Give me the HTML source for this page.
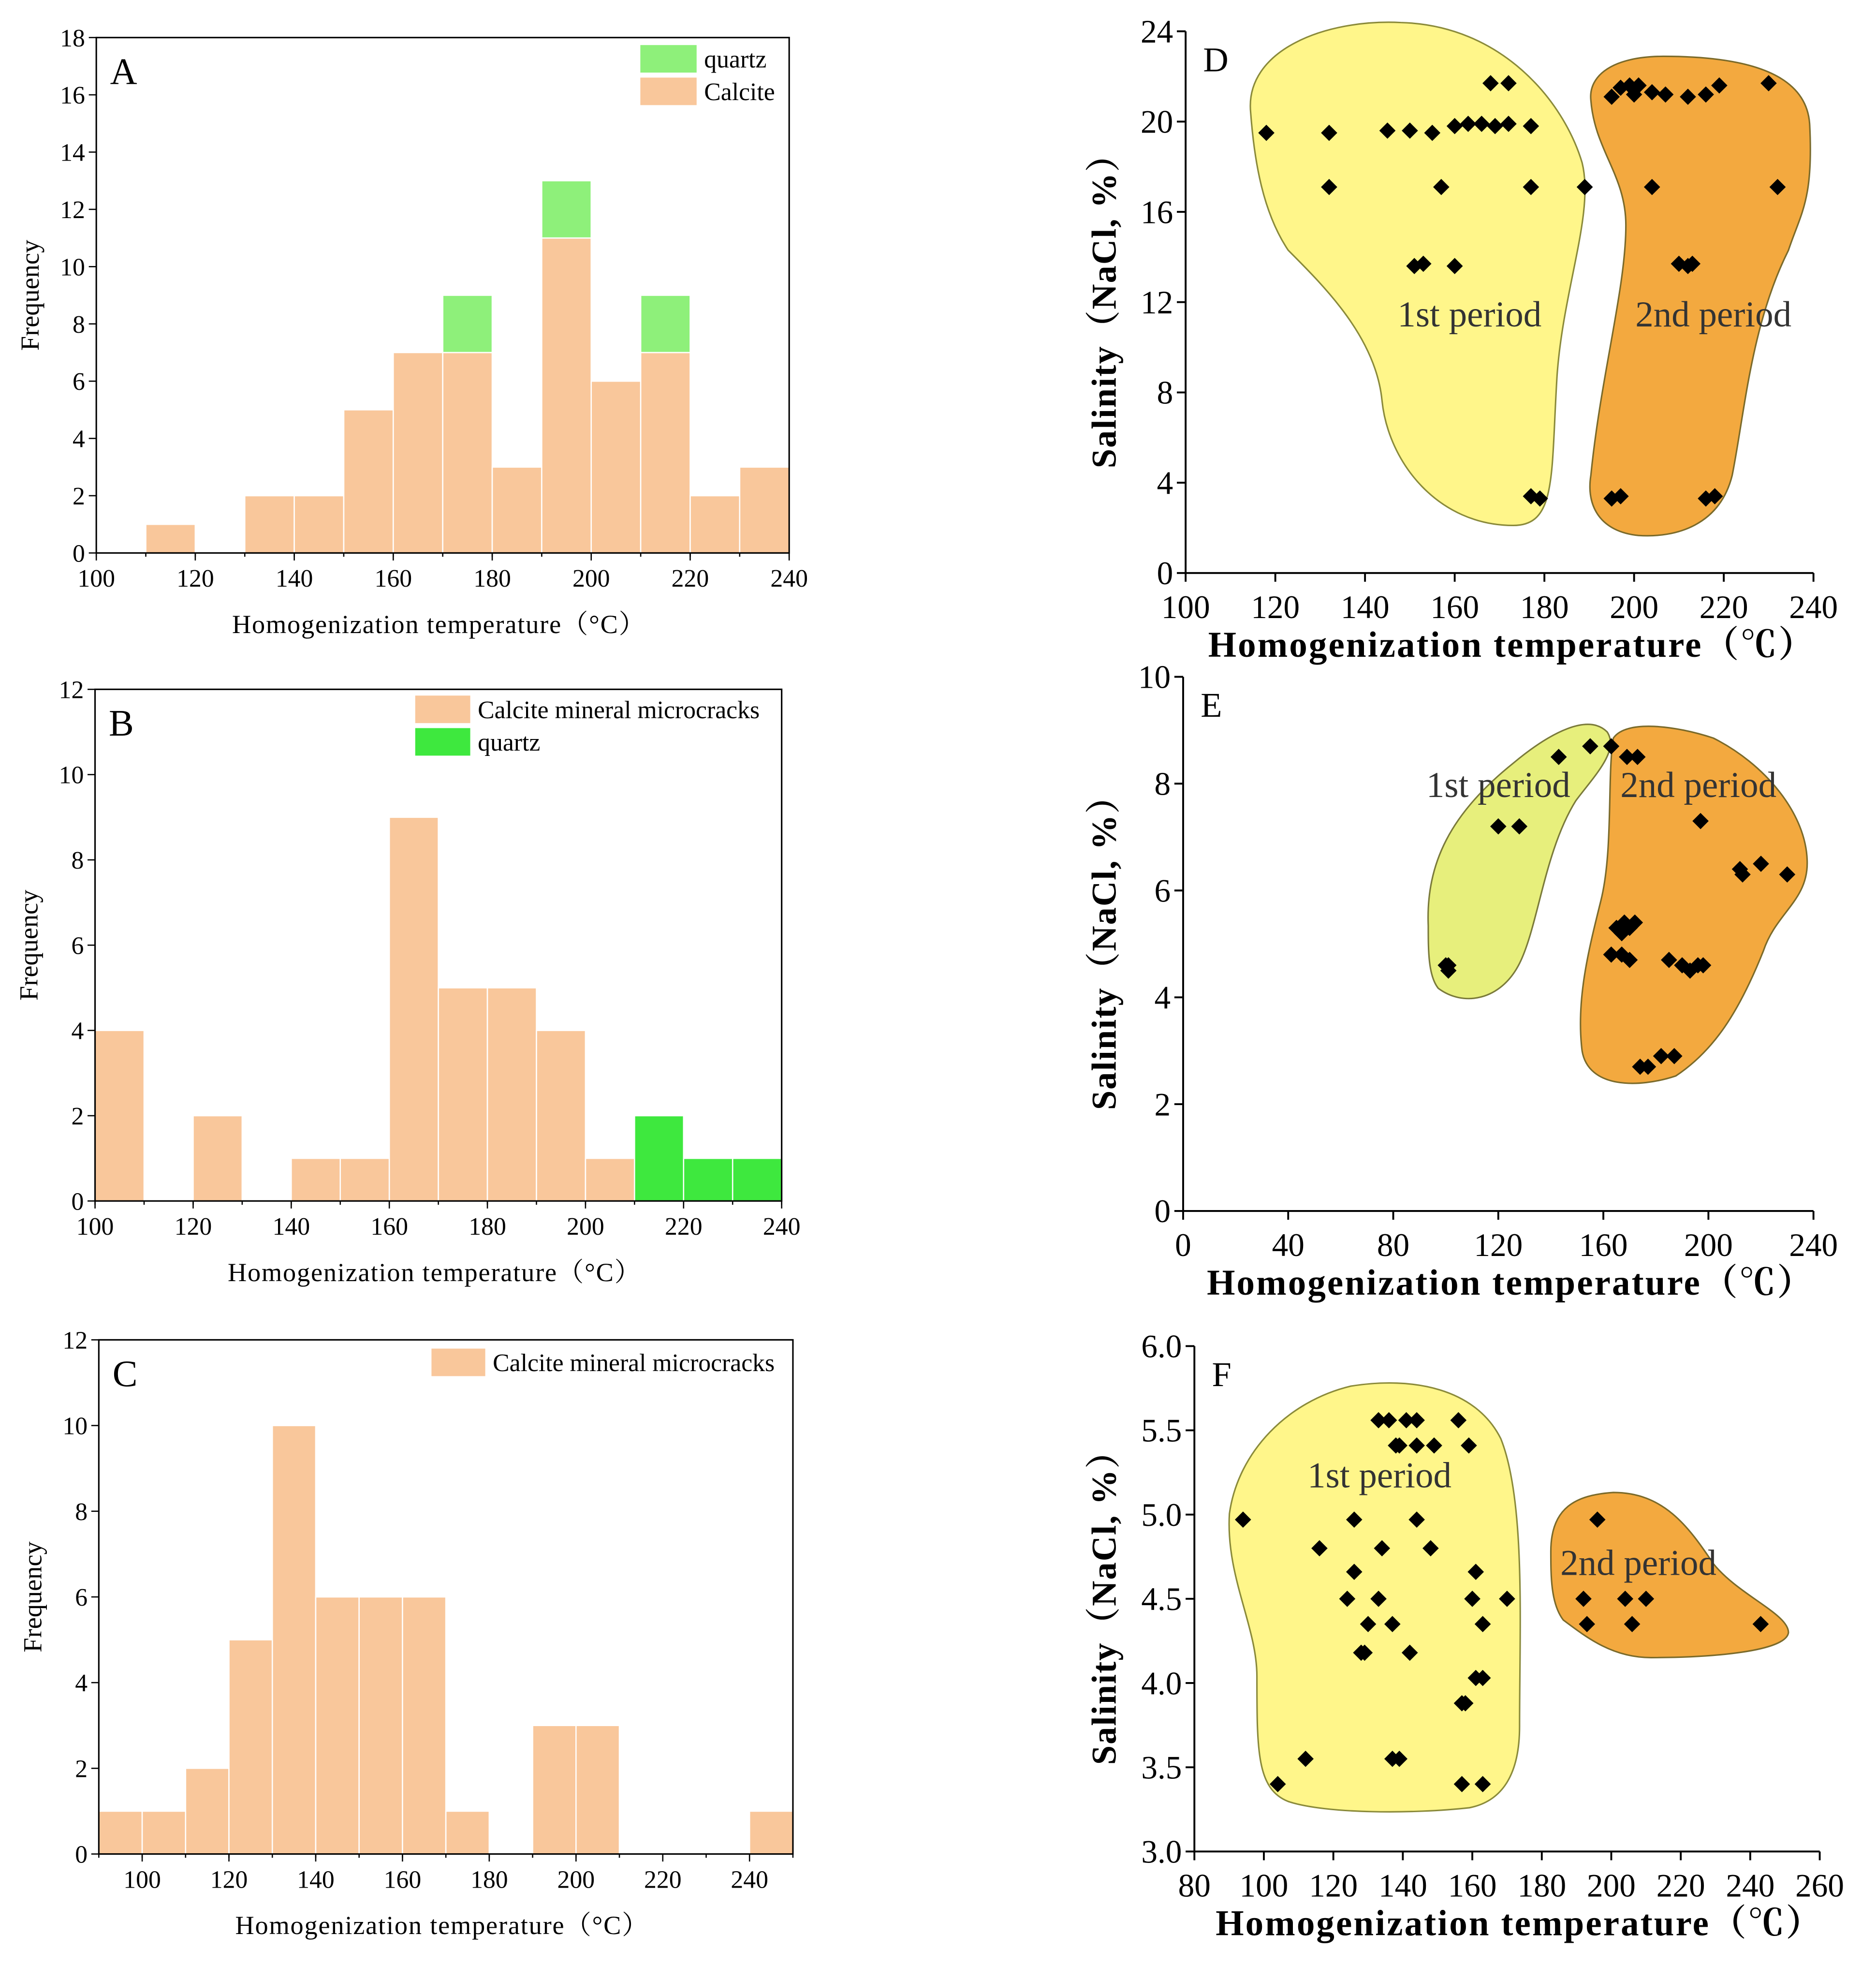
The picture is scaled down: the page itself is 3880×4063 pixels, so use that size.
<!DOCTYPE html>
<html><head><meta charset="utf-8">
<style>
html,body{margin:0;padding:0;background:#fff;}
svg{display:block;font-family:"Liberation Serif","Noto Serif CJK SC",serif;}
</style></head>
<body>
<svg id="fig" width="3880" height="4063" viewBox="0 0 1500 1570.7" xmlns="http://www.w3.org/2000/svg">
<g id="shapes">
<path fill="#fff68a" stroke="#8a8a3a" stroke-width="1.2" d="M1000,90 C995,40 1060,15 1120,18 C1200,20 1250,80 1265,130 C1275,170 1250,230 1245,300 C1240,380 1245,420 1210,420 C1150,420 1110,370 1105,320 C1100,270 1060,230 1030,200 C1010,170 1003,130 1000,90 Z"/>
<path fill="#f3a93f" stroke="#7a6a2a" stroke-width="1.2" d="M1272,80 C1270,60 1290,45 1330,45 C1400,45 1445,60 1447,100 C1450,160 1440,170 1430,200 C1400,260 1395,330 1385,380 C1375,420 1340,430 1310,428 C1280,425 1268,405 1272,380 C1280,300 1300,230 1300,180 C1300,140 1275,120 1272,80 Z"/>
<path fill="#e7ef7c" stroke="#7a7a3a" stroke-width="1.2" d="M1142,740 C1140,690 1160,650 1210,610 C1240,585 1270,570 1285,585 C1295,600 1275,620 1260,640 C1235,680 1230,740 1215,770 C1200,800 1170,805 1150,790 C1142,780 1142,760 1142,740 Z"/>
<path fill="#f3a93f" stroke="#7a6a2a" stroke-width="1.2" d="M1290,590 C1300,575 1340,580 1370,590 C1410,610 1445,650 1445,690 C1445,720 1420,730 1410,760 C1390,810 1370,840 1340,860 C1310,870 1270,870 1265,840 C1260,800 1270,760 1280,720 C1290,680 1285,620 1290,590 Z"/>
<path fill="#fff68a" stroke="#8a8a3a" stroke-width="1.2" d="M983,1210 C990,1160 1030,1120 1080,1108 C1130,1100 1180,1110 1200,1150 C1220,1200 1215,1300 1215,1380 C1215,1420 1200,1440 1175,1445 C1130,1450 1060,1450 1030,1440 C1005,1430 1005,1400 1005,1340 C1005,1300 980,1260 983,1210 Z"/>
<path fill="#f3a93f" stroke="#7a6a2a" stroke-width="1.2" d="M1240,1240 C1240,1205 1260,1195 1290,1193 C1330,1193 1350,1220 1370,1250 C1390,1275 1430,1290 1430,1305 C1428,1320 1370,1325 1320,1325 C1290,1325 1270,1310 1250,1295 C1240,1282 1240,1260 1240,1240 Z"/>
</g>
</svg>
<script>
// ---- Panel A data ----
const aBins = [100,110,120,130,140,150,160,170,180,190,200,210,220,230];
const aCalcite = [0,1,0,2,2,5,7,7,3,11,6,7,2,3];
const aQuartz = [0,0,0,0,0,0,0,2,0,2,0,2,0,0];
const aXTicks = [100,120,140,160,180,200,220,240];
const aYTicks = [0,2,4,6,8,10,12,14,16,18];
// ---- Panel B data ----
const bBins = [100,110,120,130,140,150,160,170,180,190,200,210,220,230];
const bCalcite = [4,0,2,0,1,1,9,5,5,4,1,0,0,0];
const bQuartz = [0,0,0,0,0,0,0,0,0,0,0,2,1,1];
const bXTicks = [100,120,140,160,180,200,220,240];
const bYTicks = [0,2,4,6,8,10,12];
// ---- Panel C data ----
const cBins = [90,100,110,120,130,140,150,160,170,180,190,200,210,220,230,240];
const cCalcite = [1,1,2,5,10,6,6,6,1,0,3,3,0,0,0,1];
const cXTicks = [100,120,140,160,180,200,220,240];
const cYTicks = [0,2,4,6,8,10,12];
// ---- Panel D data ----
const d1T = [118,132,132,145,150,155,157,151,153,160,160,163,166,169,172,168,172,177,177,189,177,179];
const d1S = [19.5,19.5,17.1,19.6,19.6,19.5,17.1,13.6,13.7,13.6,19.8,19.9,19.9,19.8,19.9,21.7,21.7,19.8,17.1,17.1,3.4,3.3];
const d2T = [195,197,199,200,201,204,207,212,216,219,230,204,232,210,212,213,195,197,216,218];
const d2S = [21.1,21.5,21.6,21.2,21.6,21.3,21.2,21.1,21.2,21.6,21.7,17.1,17.1,13.7,13.6,13.7,3.3,3.4,3.3,3.4];
const dXTicks = [100,120,140,160,180,200,220,240];
const dYTicks = [0,4,8,12,16,20,24];
// ---- Panel E data ----
const e1T = [101,101,100,120,128,143,155];
const e1S = [4.6,4.5,4.6,7.2,7.2,8.5,8.7];
const e2T = [163,169,173,197,212,213,220,230,165,167,168,170,172,163,167,170,185,190,193,196,198,174,177,182,187];
const e2S = [8.7,8.5,8.5,7.3,6.4,6.3,6.5,6.3,5.3,5.2,5.4,5.3,5.4,4.8,4.8,4.7,4.7,4.6,4.5,4.6,4.6,2.7,2.7,2.9,2.9];
const eXTicks = [0,40,80,120,160,200,240];
const eYTicks = [0,2,4,6,8,10];
// ---- Panel F data ----
const f1T = [94,104,112,116,124,126,126,128,129,130,133,134,137,137,139,133,136,141,144,138,139,144,149,142,144,148,156,159,161,160,163,161,163,157,158,157,163,170];
const f1S = [4.97,3.4,3.55,4.8,4.5,4.97,4.66,4.18,4.18,4.35,4.5,4.8,4.35,3.55,3.55,5.56,5.56,5.56,5.56,5.41,5.41,5.41,5.41,4.18,4.97,4.8,5.56,5.41,4.66,4.5,4.35,4.03,4.03,3.88,3.88,3.4,3.4,4.5];
const f2T = [192,193,196,204,206,210,243];
const f2S = [4.5,4.35,4.97,4.5,4.35,4.5,4.35];
const fXTicks = [80,100,120,140,160,180,200,220,240,260];
const fYTicks = [3.0,3.5,4.0,4.5,5.0,5.5,6.0];

const NS = "http://www.w3.org/2000/svg";
const svg = document.getElementById('fig');
function mk(tag, attrs, parent, text){
  const e = document.createElementNS(NS, tag);
  for (const k in attrs) e.setAttribute(k, attrs[k]);
  if (text !== undefined) e.textContent = text;
  (parent || svg).appendChild(e);
  return e;
}
function lin(d0,d1,r0,r1){ return v => r0 + (v-d0)/(d1-d0)*(r1-r0); }

function histPanel(p){
  const g = mk('g', {});
  
  
  const x = lin(p.xd[0], p.xd[1], p.x0, p.x1);
  const y = lin(p.yd[0], p.yd[1], p.y0, p.y1);
  p.series.forEach(s=>{
    s.vals.forEach((v,i)=>{
      if (!v) return;
      const base = s.base ? s.base[i] : 0;
      const r = mk('rect', {x:x(p.bins[i]), y:y(base+v), width:x(p.bins[i]+10)-x(p.bins[i]), height:y(base)-y(base+v), fill:s.color, stroke:'#fff', 'stroke-width':1}, g);
      
      
    });
  });
  const fr = mk('rect', {x:p.x0, y:p.y1, width:p.x1-p.x0, height:p.y0-p.y1, fill:'none', stroke:'#000', 'stroke-width':1.2}, g);
  
  
  p.xt.forEach(t=>{
    mk('line', {x1:x(t), x2:x(t), y1:p.y0, y2:p.y0+6, stroke:'#000'}, g);
    const tl = mk('text', {x:x(t), y:p.y0+27, 'font-size':20, 'text-anchor':'middle'}, g, t);
    
    
  });
  for (let t=p.xd[0]; t<=p.xd[1]; t+=10) mk('line', {x1:x(t), x2:x(t), y1:p.y0, y2:p.y0+3, stroke:'#000'}, g);
  p.yt.forEach(t=>{
    mk('line', {x1:p.x0-6, x2:p.x0, y1:y(t), y2:y(t), stroke:'#000'}, g);
    const tl = mk('text', {x:p.x0-9, y:y(t)+7, 'font-size':20, 'text-anchor':'end'}, g, t);
    
    
  });
  const xt = mk('text', {x:(p.x0+p.x1)/2-3, y:p.y0+64, 'font-size':21, 'letter-spacing':'0.7', 'text-anchor':'middle'}, g, 'Homogenization temperature（°C）');
  
  
  const yt = mk('text', {x:0, y:0, 'font-size':21, 'text-anchor':'middle', transform:`translate(${p.x0-46},${(p.y0+p.y1)/2}) rotate(-90)`}, g, 'Frequency');
  
  
  const lt = mk('text', {x:p.x0+11, y:p.y1+37, 'font-size':30}, g, p.letter);
  
  
  p.legend.forEach(l=>{
    const lr = mk('rect', {x:l.x, y:l.y, width:l.w, height:22, fill:l.color}, g);
    
    
    const ltx = mk('text', {x:l.x+l.w+6, y:l.y+18, 'font-size':20}, g, l.label);
    
    
  });
}

const peach = '#f9c79b';
histPanel({name:'panel-a-histogram', letter:'A', bins:aBins, xd:[100,240], yd:[0,18], x0:77, x1:631, y0:442, y1:30, xt:aXTicks, yt:aYTicks,
  series:[{key:'calcite', vals:aCalcite, color:peach},{key:'quartz', vals:aQuartz, base:aCalcite, color:'#8ef07a'}],
  legend:[{x:512,y:36,w:45,color:'#8ef07a',label:'quartz'},{x:512,y:62,w:45,color:peach,label:'Calcite'}]});
histPanel({name:'panel-b-histogram', letter:'B', bins:bBins, xd:[100,240], yd:[0,12], x0:76, x1:625, y0:960, y1:551, xt:bXTicks, yt:bYTicks,
  series:[{key:'calcite', vals:bCalcite, color:peach},{key:'quartz', vals:bQuartz, color:'#3ee83e'}],
  legend:[{x:332,y:556,w:44,color:peach,label:'Calcite mineral microcracks'},{x:332,y:582,w:44,color:'#3ee83e',label:'quartz'}]});
histPanel({name:'panel-c-histogram', letter:'C', bins:cBins, xd:[90,250], yd:[0,12], x0:79, x1:634, y0:1482, y1:1071, xt:cXTicks, yt:cYTicks,
  series:[{key:'calcite', vals:cCalcite, color:peach}],
  legend:[{x:345,y:1078,w:43,color:peach,label:'Calcite mineral microcracks'}]});

function scatterPanel(p){
  const g = mk('g', {});
  
  
  const x = lin(p.xd[0], p.xd[1], p.x0, p.x1);
  const y = lin(p.yd[0], p.yd[1], p.y0, p.y1);
  mk('line', {x1:p.x0, x2:p.x1, y1:p.y0, y2:p.y0, stroke:'#000', 'stroke-width':1.5}, g);
  mk('line', {x1:p.x0, x2:p.x0, y1:p.y0, y2:p.y1, stroke:'#000', 'stroke-width':1.5}, g);
  p.xt.forEach(t=>{
    mk('line', {x1:x(t), x2:x(t), y1:p.y0, y2:p.y0+7, stroke:'#000', 'stroke-width':1.5}, g);
    const tl = mk('text', {x:x(t), y:p.y0+36, 'font-size':26, 'text-anchor':'middle'}, g, t);
    
    
  });
  p.yt.forEach(t=>{
    mk('line', {x1:p.x0-7, x2:p.x0, y1:y(t), y2:y(t), stroke:'#000', 'stroke-width':1.5}, g);
    const tl = mk('text', {x:p.x0-10, y:y(t)+9, 'font-size':26, 'text-anchor':'end'}, g, p.fmt ? t.toFixed(1) : t);
    
    
  });
  const xt = mk('text', {x:(p.x0+p.x1)/2+10, y:p.y0+67, 'font-size':29, 'font-weight':'bold', 'text-anchor':'middle', 'letter-spacing':'1.2'}, g, 'Homogenization temperature（℃）');
  
  
  const yt = mk('text', {x:0, y:0, 'font-size':28, 'font-weight':'bold', 'text-anchor':'middle', 'letter-spacing':'0.8', transform:`translate(${892},${(p.y0+p.y1)/2}) rotate(-90)`}, g, 'Salinity（NaCl, %）');
  
  
  const lt = mk('text', {x:p.x0+14, y:p.y1+32, 'font-size':28}, g, p.letter);
  
  
  p.labels.forEach(l=>{
    const t = mk('text', {x:l.x, y:l.y, 'font-size':29, 'text-anchor':'middle', fill:'#333'}, g, l.text);
    
    
  });
  p.series.forEach(s=>{
    s.T.forEach((tv,i)=>{
      const cx = x(tv), cy = y(s.S[i]), r = 6.5;
      const m = mk('polygon', {points:`${cx},${cy-r} ${cx+r},${cy} ${cx},${cy+r} ${cx-r},${cy}`, fill:'#000'}, g);
      
      
    });
  });
}

scatterPanel({name:'panel-d-scatter', letter:'D', xd:[100,240], yd:[0,24], x0:948, x1:1450, y0:458, y1:25, xt:dXTicks, yt:dYTicks,
  series:[{key:'first-period', T:d1T, S:d1S},{key:'second-period', T:d2T, S:d2S}],
  labels:[{x:1175,y:261,text:'1st period'},{x:1370,y:261,text:'2nd period'}]});
scatterPanel({name:'panel-e-scatter', letter:'E', xd:[0,240], yd:[0,10], x0:946, x1:1450, y0:968, y1:541, xt:eXTicks, yt:eYTicks,
  series:[{key:'first-period', T:e1T, S:e1S},{key:'second-period', T:e2T, S:e2S}],
  labels:[{x:1198,y:637,text:'1st period'},{x:1358,y:637,text:'2nd period'}]});
scatterPanel({name:'panel-f-scatter', letter:'F', fmt:true, xd:[80,260], yd:[3,6], x0:955, x1:1455, y0:1480, y1:1076, xt:fXTicks, yt:fYTicks,
  series:[{key:'first-period', T:f1T, S:f1S},{key:'second-period', T:f2T, S:f2S}],
  labels:[{x:1103,y:1189,text:'1st period'},{x:1310,y:1259,text:'2nd period'}]});
</script>
</body></html>
